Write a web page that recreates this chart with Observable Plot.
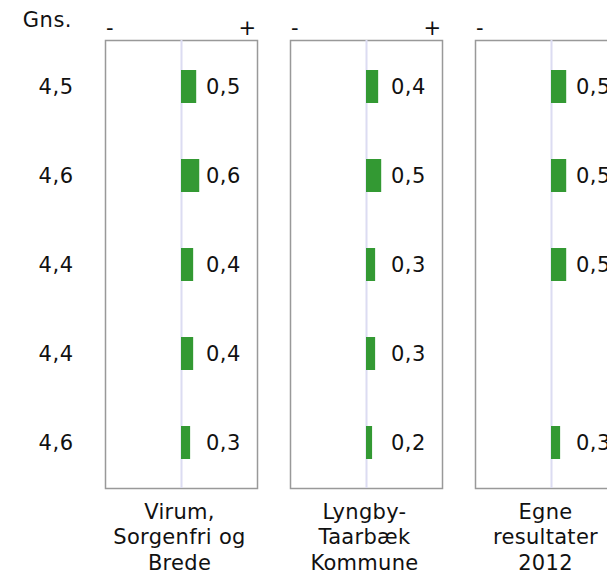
<!DOCTYPE html>
<html>
<head>
<meta charset="utf-8">
<script src="https://cdn.jsdelivr.net/npm/d3@7"></script>
<script src="https://cdn.jsdelivr.net/npm/@observablehq/plot@0.6"></script>
<style>
  html, body { margin: 0; padding: 0; background: #fff; overflow: hidden; }
  #wrap { position: relative; width: 607px; height: 572px; overflow: hidden; font-family: "DejaVu Sans", Verdana, sans-serif; }
  #gns { position: absolute; left: 0; top: 10px; width: 72px; text-align: right; font-size: 21px; line-height: 21px; letter-spacing: 0.5px; color: #111; z-index: 2; }
  #chart { position: absolute; left: 0; top: 0; z-index: 1; }
  #chart svg { max-width: none !important; overflow: visible; }
  #chart svg text { letter-spacing: 0.5px; }
  #chart svg .grp text { letter-spacing: 0.3px; }
</style>
</head>
<body>
<div id="wrap">
  <div id="chart"></div>
  <div id="gns">Gns.</div>
</div>
<script>
// Data
const groups = ["Virum,\nSorgenfri og\nBrede", "Lyngby-\nTaarbæk\nKommune", "Egne\nresultater\n2012"];
const rows = [0, 1, 2, 3, 4];
const gnsLabels = ["4,5", "4,6", "4,4", "4,4", "4,6"];
const virum = [0.5, 0.6, 0.4, 0.4, 0.3];
const lyngby = [0.4, 0.5, 0.3, 0.3, 0.2];
const egne = [0.5, 0.5, 0.5, null, 0.3];
const signTicks = [-2.35, 2.17];

const series = [virum, lyngby, egne];
const data = [];
series.forEach((vals, g) => {
  vals.forEach((v, i) => {
    if (v != null) data.push({group: groups[g], row: rows[i], value: v});
  });
});
const fmt = v => v.toFixed(1).replace(".", ",");
const panelsMain = groups.slice(0, 2).map(g => ({group: g}));
const panelsLast = groups.slice(2).map(g => ({group: g}));

const plot = Plot.plot({
  width: 627,
  height: 572,
  marginLeft: 105,
  marginRight: 0,
  marginTop: 40,
  marginBottom: 84,
  style: {fontFamily: "DejaVu Sans, Verdana, sans-serif", fontSize: "21px", color: "#111", background: "#fff", maxWidth: "none", overflow: "visible"},
  fx: {domain: groups, paddingInner: 33 / 185, paddingOuter: 0, axis: null, label: null},
  x: {domain: [-2.5, 2.5], label: null},
  y: {type: "band", domain: rows, paddingInner: 0.63, paddingOuter: 0.315, label: null},
  marks: [
    Plot.frame({stroke: "#999", strokeWidth: 1.5}),
    Plot.ruleX([0], {stroke: "#dcdcf2", strokeWidth: 2}),
    Plot.barX(data, {fx: "group", y: "row", x1: 0, x2: "value", fill: "#339933"}),
    Plot.text(data, {fx: "group", y: "row", x: 0, text: d => fmt(d.value), dx: 24.5, textAnchor: "start", fontSize: 21, fill: "#111"}),
    Plot.axisX({anchor: "top", ticks: signTicks, tickFormat: d => d < 0 ? "-" : "+", tickSize: 0, tickPadding: 6, fontSize: 21, label: null}),
    Plot.axisY({anchor: "left", tickFormat: i => gnsLabels[i], tickSize: 0, tickPadding: 32, fontSize: 21, label: null}),
    Plot.text(panelsMain, {fx: "group", text: "group", frameAnchor: "bottom", lineAnchor: "top", dy: 12, dx: -2, lineHeight: 1.22, fontSize: 21, fill: "#111", className: "grp"}),
    Plot.text(panelsLast, {fx: "group", text: "group", frameAnchor: "bottom", lineAnchor: "top", dy: 12, dx: -6, lineHeight: 1.22, fontSize: 21, fill: "#111", className: "grp"})
  ]
});
document.getElementById("chart").appendChild(plot);
</script>
</body>
</html>
